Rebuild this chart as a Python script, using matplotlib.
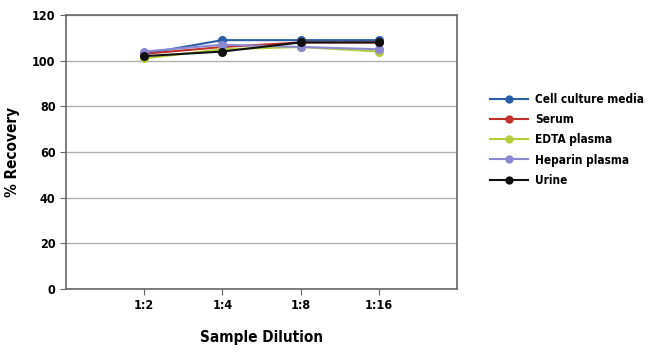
import matplotlib.pyplot as plt

dilutions = ['1:2', '1:4', '1:8', '1:16']
cell_culture = [103, 109, 109, 109]
serum = [103, 106, 108, 108]
edta = [101, 105, 106, 104]
heparin = [104, 107, 106, 105]
urine = [102, 104, 108, 108]

series = [
    ('Cell culture media', cell_culture, '#2a5ea8'),
    ('Serum', serum, '#c0302a'),
    ('EDTA plasma', edta, '#b3cc3c'),
    ('Heparin plasma', heparin, '#8b88d2'),
    ('Urine', urine, '#111111'),
]

plt.rcParams['font.family'] = ['DejaVu Sans']
plt.rcParams['font.stretch'] = 'condensed'
plt.rcParams['font.weight'] = 'bold'

fig = plt.figure(figsize=(6.5, 3.58), dpi=100)
ax = fig.add_axes([0.1015, 0.193, 0.6015, 0.765])

x = list(range(1, len(dilutions) + 1))
for name, vals, col in series:
    ax.plot(x, vals, color=col, marker='o', markersize=5.5, linewidth=1.5, label=name)

ax.set_xlim(0, 5)
ax.set_ylim(0, 120)
ax.set_yticks(range(0, 121, 20))
ax.set_xticks(x)
ax.set_xticklabels(dilutions)
ax.yaxis.grid(True, color='#b0b0b0', linewidth=1)
ax.set_axisbelow(True)
for s in ax.spines.values():
    s.set_color('#666666')
    s.set_linewidth(1.2)
ax.tick_params(axis='both', labelsize=9, color='#666666', length=4)
ax.set_xlabel('Sample Dilution', fontsize=11, fontweight='bold', labelpad=13)
ax.set_ylabel('% Recovery', fontsize=11, fontweight='bold', labelpad=9)

leg = fig.legend(loc='center left', bbox_to_anchor=(0.738, 0.609), frameon=False,
                 fontsize=8.5, handlelength=3.2, handletextpad=0.6,
                 labelspacing=0.6, markerscale=0.9)

fig.savefig('out.png', dpi=100)
